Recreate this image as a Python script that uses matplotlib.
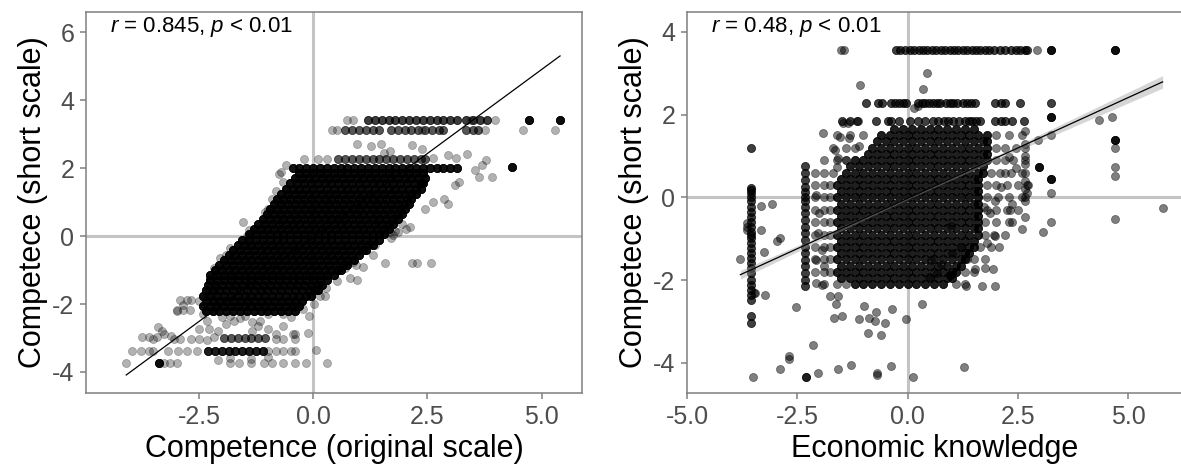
import numpy as np
import matplotlib
matplotlib.use("Agg")
import matplotlib.pyplot as plt

plt.rcParams['font.family'] = ['Liberation Sans', 'DejaVu Sans']
plt.rcParams['mathtext.fontset'] = 'custom'
plt.rcParams['mathtext.it'] = 'Liberation Sans:italic'
plt.rcParams['mathtext.rm'] = 'Liberation Sans'
plt.rcParams['axes.unicode_minus'] = False

# ---------------- left panel: original scale vs short scale ----------------
# short-scale levels with the original-scale scores seen on each level
left_levels = [-2.2, -2.05, -1.9, -1.75, -1.6, -1.45, -1.3, -1.15, -1.0, -0.85,
               -0.7, -0.55, -0.4, -0.25, -0.1, 0.05, 0.2, 0.35, 0.5, 0.65,
               0.8, 0.95, 1.1, 1.25, 1.4, 1.55, 1.7, 1.85,
               2.02, 2.27, 3.12, 3.42, -3.37, -3.01]
left_rows = [
    [-2.35, -2.2, -2.05, -1.9, -1.75, -1.6, -1.45, -1.3, -1.15, -1.0, -0.85, -0.7, -0.55, -0.4],
    [-2.4, -2.25, -2.1, -1.95, -1.8, -1.65, -1.5, -1.35, -1.2, -1.05, -0.9, -0.75, -0.6, -0.45, -0.3],
    [-2.35, -2.2, -2.05, -1.9, -1.75, -1.6, -1.45, -1.3, -1.15, -1.0, -0.85, -0.7, -0.55, -0.4, -0.25],
    [-2.4, -2.25, -2.1, -1.95, -1.8, -1.65, -1.5, -1.35, -1.2, -1.05, -0.9, -0.75, -0.6, -0.45, -0.3,
     -0.15, -0.05],
    [-2.35, -2.2, -2.05, -1.9, -1.75, -1.6, -1.45, -1.3, -1.15, -1.0, -0.85, -0.7, -0.55, -0.4, -0.25,
     -0.1, 0.05, 0.1],
    [-2.3, -2.15, -2.0, -1.85, -1.7, -1.55, -1.4, -1.25, -1.1, -0.95, -0.8, -0.65, -0.5, -0.35, -0.2,
     -0.05, 0.1, 0.2],
    [-2.25, -2.1, -1.95, -1.8, -1.65, -1.5, -1.35, -1.2, -1.05, -0.9, -0.75, -0.6, -0.45, -0.3, -0.15,
     0.0, 0.15, 0.3],
    [-2.25, -2.1, -1.95, -1.8, -1.65, -1.5, -1.35, -1.2, -1.05, -0.9, -0.75, -0.6, -0.45, -0.3, -0.15,
     0.0, 0.15, 0.3, 0.45],
    [-2.15, -2.0, -1.85, -1.7, -1.55, -1.4, -1.25, -1.1, -0.95, -0.8, -0.65, -0.5, -0.35, -0.2, -0.05,
     0.1, 0.25, 0.4, 0.55, 0.6],
    [-2.05, -1.9, -1.75, -1.6, -1.45, -1.3, -1.15, -1.0, -0.85, -0.7, -0.55, -0.4, -0.25, -0.1, 0.05,
     0.2, 0.35, 0.5, 0.65, 0.75],
    [-1.95, -1.8, -1.65, -1.5, -1.35, -1.2, -1.05, -0.9, -0.75, -0.6, -0.45, -0.3, -0.15, 0.0, 0.15,
     0.3, 0.45, 0.6, 0.75, 0.9],
    [-1.85, -1.7, -1.55, -1.4, -1.25, -1.1, -0.95, -0.8, -0.65, -0.5, -0.35, -0.2, -0.05, 0.1, 0.25,
     0.4, 0.55, 0.7, 0.85, 1.0],
    [-1.75, -1.6, -1.45, -1.3, -1.15, -1.0, -0.85, -0.7, -0.55, -0.4, -0.25, -0.1, 0.05, 0.2, 0.35,
     0.5, 0.65, 0.8, 0.95, 1.1, 1.15],
    [-1.65, -1.5, -1.35, -1.2, -1.05, -0.9, -0.75, -0.6, -0.45, -0.3, -0.15, 0.0, 0.15, 0.3, 0.45,
     0.6, 0.75, 0.9, 1.05, 1.2, 1.3],
    [-1.55, -1.4, -1.25, -1.1, -0.95, -0.8, -0.65, -0.5, -0.35, -0.2, -0.05, 0.1, 0.25, 0.4, 0.55,
     0.7, 0.85, 1.0, 1.15, 1.3, 1.45],
    [-1.4, -1.25, -1.1, -0.95, -0.8, -0.65, -0.5, -0.35, -0.2, -0.05, 0.1, 0.25, 0.4, 0.55, 0.7,
     0.85, 1.0, 1.15, 1.3, 1.45, 1.55],
    [-1.3, -1.15, -1.0, -0.85, -0.7, -0.55, -0.4, -0.25, -0.1, 0.05, 0.2, 0.35, 0.5, 0.65, 0.8,
     0.95, 1.1, 1.25, 1.4, 1.55, 1.65],
    [-1.2, -1.05, -0.9, -0.75, -0.6, -0.45, -0.3, -0.15, 0.0, 0.15, 0.3, 0.45, 0.6, 0.75, 0.9,
     1.05, 1.2, 1.35, 1.5, 1.65, 1.75],
    [-1.1, -0.95, -0.8, -0.65, -0.5, -0.35, -0.2, -0.05, 0.1, 0.25, 0.4, 0.55, 0.7, 0.85, 1.0,
     1.15, 1.3, 1.45, 1.6, 1.75, 1.85],
    [-1.0, -0.85, -0.7, -0.55, -0.4, -0.25, -0.1, 0.05, 0.2, 0.35, 0.5, 0.65, 0.8, 0.95, 1.1,
     1.25, 1.4, 1.55, 1.7, 1.85, 1.95],
    [-0.95, -0.8, -0.65, -0.5, -0.35, -0.2, -0.05, 0.1, 0.25, 0.4, 0.55, 0.7, 0.85, 1.0, 1.15,
     1.3, 1.45, 1.6, 1.75, 1.9, 2.0],
    [-0.85, -0.7, -0.55, -0.4, -0.25, -0.1, 0.05, 0.2, 0.35, 0.5, 0.65, 0.8, 0.95, 1.1, 1.25,
     1.4, 1.55, 1.7, 1.85, 2.0, 2.1],
    [-0.8, -0.65, -0.5, -0.35, -0.2, -0.05, 0.1, 0.25, 0.4, 0.55, 0.7, 0.85, 1.0, 1.15, 1.3,
     1.45, 1.6, 1.75, 1.9, 2.05, 2.15],
    [-0.7, -0.55, -0.4, -0.25, -0.1, 0.05, 0.2, 0.35, 0.5, 0.65, 0.8, 0.95, 1.1, 1.25, 1.4,
     1.55, 1.7, 1.85, 2.0, 2.15, 2.25],
    [-0.6, -0.45, -0.3, -0.15, 0.0, 0.15, 0.3, 0.45, 0.6, 0.75, 0.9, 1.05, 1.2, 1.35, 1.5,
     1.65, 1.8, 1.95, 2.1, 2.25, 2.35],
    [-0.5, -0.35, -0.2, -0.05, 0.1, 0.25, 0.4, 0.55, 0.7, 0.85, 1.0, 1.15, 1.3, 1.45, 1.6,
     1.75, 1.9, 2.05, 2.2, 2.35, 2.4],
    [-0.4, -0.25, -0.1, 0.05, 0.2, 0.35, 0.5, 0.65, 0.8, 0.95, 1.1, 1.25, 1.4, 1.55, 1.7,
     1.85, 2.0, 2.15, 2.3, 2.45],
    [-0.3, -0.15, 0.0, 0.15, 0.3, 0.45, 0.6, 0.75, 0.9, 1.05, 1.2, 1.35, 1.5, 1.65, 1.8,
     1.95, 2.1, 2.25, 2.4],
    [-0.45, -0.3, -0.15, 0.0, 0.15, 0.3, 0.45, 0.6, 0.75, 0.9, 1.05, 1.2, 1.35, 1.5, 1.65, 1.8, 1.95,
     2.1, 2.25, 2.4, 2.55, 2.7, 2.85, 3.0, 3.15],
    [0.55, 0.7, 0.85, 1.0, 1.15, 1.3, 1.45, 1.6, 1.75, 1.9, 2.05, 2.2, 2.35, 2.45],
    [0.7, 0.85, 1.0, 1.15, 1.3, 1.45, 1.7, 1.85, 2.0, 2.15, 2.3, 2.45, 2.6, 2.75, 2.85, 3.35, 3.5, 3.6],
    [1.2, 1.35, 1.5, 1.65, 1.8, 1.95, 2.1, 2.25, 2.4, 2.55, 2.7, 2.85, 3.0, 3.15, 3.35, 3.5, 3.65, 3.8],
    [-2.3, -2.15, -2.0, -1.85, -1.7, -1.55, -1.4, -1.25, -1.1],
    [-1.95, -1.8, -1.65, -1.5, -1.35, -1.2, -1.05],
]
# respondents stacked on each point of a row
left_counts = [8] * 28 + [7, 3, 3, 4, 6, 3]

# scattered respondents
left_x = [4.59, 5.29, 0.73, 0.86, 3.98, 3.46, 0.42, 0.52, 2.37, 3.75,
          0.96, 1.26, 1.48, 2.16, 1.69, 1.55, 2.37, 3.36, 3.12, 2.95, 2.62, 3.79, 3.69, 3.54,
          3.92, 3.62, 3.1, 3.2, 2.87, 2.95, 2.62, 2.45, 2.03, 1.86, 1.69, 2.11, 1.75, 1.36,
          1.57, 2.16, 2.28, 2.58, 0.86, 0.81, 0.69, 0.94, 0.52, 0.27, 0.14, 0.02, -0.23, -0.4,
          -0.11, 0.06, 0.31, -0.15,
          -1.54, -1.41, -1.45, -1.83, -1.91, -2.04, -2.16, -2.25, -2.16, -2.33, -0.99, -1.05,
          -0.74, -0.65, -0.82, -0.9, -0.7, -0.6, -0.2, 0.1, 0.3,
          -2.92, -2.75, -2.67, -2.5, -2.98, -2.84, -2.69, -2.42, -2.33, -2.5, -2.29, -2.08,
          -1.74, -1.49, -1.33, -1.33, -0.99, -0.65, -0.44, -0.82, -1.16, -1.83, -1.6, -2.0,
          -0.99, -0.65, -0.49, -1.9, -1.2,
          -3.51, -3.26, -3.05, -2.92, -2.67, -2.5, -2.33, -2.16, -0.82, -0.65, -0.4, -0.4,
          -3.97, -3.76, -3.59, -3.5, -3.17, -2.96, -2.75, -2.54, -0.99, -0.82, -0.65, -0.49, -0.4,
          -4.09, -3.26, -3.13, -2.98, -2.08, -1.83, -1.62, -1.37, -1.07, -0.91, -0.65, -0.4,
          -1.83, -1.37, -0.99,
          -3.75, -3.6, -3.42, -3.39, -3.3, -3.1, -2.98, -2.84,
          1.8, 1.95, 1.7, 1.3, 1.1, 0.95, 0.25, -0.1]
left_y = [3.12, 3.12, 3.42, 3.42, 3.42, 3.42, 3.12, 3.12, 3.12, 3.12,
          2.72, 2.64, 2.72, 2.69, 2.5, 2.46, 2.56, 2.42, 2.3, 2.4, 2.3, 2.25, 2.1, 1.95,
          1.75, 1.75, 1.5, 1.6, 1.1, 0.95, 1.0, 0.8, 0.22, 0.13, 0.13, 0.27, 0.03, -0.26,
          -0.78, -0.78, -0.78, -0.78, -0.75, -1.23, -0.94, -0.84, -1.33, -1.52, -1.76, -2.0, -2.15, -2.08,
          -2.86, -3.36, -3.73, -3.73,
          0.42, 0.17, 0.0, -0.36, -0.55, -0.65, -0.94, -1.23, -1.52, -1.72, 0.8, 0.7,
          1.82, 1.58, 1.34, 1.1, 1.9, 2.1, 2.27, 2.27, 2.27,
          -1.89, -1.89, -1.89, -1.91, -2.2, -2.03, -2.18, -2.3, -2.49, -2.73, -2.73, -2.78,
          -2.49, -2.34, -2.54, -2.78, -2.73, -2.64, -2.88, -2.88, -2.49, -2.35, -2.4, -2.39,
          -2.3, -2.3, -2.39, -2.6, -2.65,
          -3.02, -2.88, -3.02, -3.02, -3.02, -3.02, -3.07, -2.97, -3.02, -3.02, -3.02, -2.88,
          -3.37, -3.37, -3.37, -3.37, -3.37, -3.37, -3.37, -3.37, -3.37, -3.37, -3.37, -3.37, -3.37,
          -3.73, -3.73, -3.73, -3.73, -3.65, -3.73, -3.73, -3.73, -3.73, -3.73, -3.73, -3.73,
          -3.6, -3.62, -3.55,
          -2.97, -2.97, -2.97, -2.67, -2.8, -2.95, -2.18, -2.18,
          0.15, 0.35, -0.05, -0.55, -0.9, -1.3, -1.75, -2.35]

# heavily repeated answers (drawn nearly opaque)
left_heavy_x = [4.73, 5.40, 4.35, -3.38]
left_heavy_y = [3.42, 3.42, 2.03, -3.73]
left_heavy_n = [8, 8, 8, 8]

left_fit = (-0.04, 0.99)       # intercept, slope
left_label = r'$r$ = 0.845, $p$ < 0.01'

# ---------------- right panel: economic knowledge vs short scale ----------------
right_levels = [-2.1, -1.95, -1.8, -1.65, -1.5, -1.35, -1.2, -1.05, -0.9, -0.75,
                -0.6, -0.45, -0.3, -0.15, 0.0, 0.15, 0.3, 0.45, 0.6, 0.75,
                0.9, 1.05, 1.2, 1.35, 1.5, 1.65,
                3.57, 2.29, 1.85]
right_rows = [
    [-1.2, -1.0, -0.8, -0.6, -0.4, -0.2, 0.0, 0.2, 0.4, 0.6, 0.8],
    [-1.5, -1.3, -1.1, -0.9, -0.7, -0.5, -0.3, -0.1, 0.1, 0.3, 0.5, 0.7, 0.9, 1.0],
    [-1.6, -1.4, -1.2, -1.0, -0.8, -0.6, -0.4, -0.2, 0.0, 0.2, 0.4, 0.6, 0.8, 1.0, 1.1],
    [-1.5, -1.3, -1.1, -0.9, -0.7, -0.5, -0.3, -0.1, 0.1, 0.3, 0.5, 0.7, 0.9, 1.1, 1.2],
    [-1.6, -1.4, -1.2, -1.0, -0.8, -0.6, -0.4, -0.2, 0.0, 0.2, 0.4, 0.6, 0.8, 1.0, 1.2, 1.3],
    [-1.5, -1.3, -1.1, -0.9, -0.7, -0.5, -0.3, -0.1, 0.1, 0.3, 0.5, 0.7, 0.9, 1.1, 1.3, 1.4],
    [-1.6, -1.4, -1.2, -1.0, -0.8, -0.6, -0.4, -0.2, 0.0, 0.2, 0.4, 0.6, 0.8, 1.0, 1.2, 1.4, 1.5],
    [-1.5, -1.3, -1.1, -0.9, -0.7, -0.5, -0.3, -0.1, 0.1, 0.3, 0.5, 0.7, 0.9, 1.1, 1.3, 1.5],
    [-1.6, -1.4, -1.2, -1.0, -0.8, -0.6, -0.4, -0.2, 0.0, 0.2, 0.4, 0.6, 0.8, 1.0, 1.2, 1.4, 1.6],
    [-1.5, -1.3, -1.1, -0.9, -0.7, -0.5, -0.3, -0.1, 0.1, 0.3, 0.5, 0.7, 0.9, 1.1, 1.3, 1.5, 1.6],
    [-1.6, -1.4, -1.2, -1.0, -0.8, -0.6, -0.4, -0.2, 0.0, 0.2, 0.4, 0.6, 0.8, 1.0, 1.2, 1.4, 1.6],
    [-1.5, -1.3, -1.1, -0.9, -0.7, -0.5, -0.3, -0.1, 0.1, 0.3, 0.5, 0.7, 0.9, 1.1, 1.3, 1.5, 1.6],
    [-1.6, -1.4, -1.2, -1.0, -0.8, -0.6, -0.4, -0.2, 0.0, 0.2, 0.4, 0.6, 0.8, 1.0, 1.2, 1.4, 1.6],
    [-1.5, -1.3, -1.1, -0.9, -0.7, -0.5, -0.3, -0.1, 0.1, 0.3, 0.5, 0.7, 0.9, 1.1, 1.3, 1.5, 1.6],
    [-1.6, -1.4, -1.2, -1.0, -0.8, -0.6, -0.4, -0.2, 0.0, 0.2, 0.4, 0.6, 0.8, 1.0, 1.2, 1.4, 1.6],
    [-1.5, -1.3, -1.1, -0.9, -0.7, -0.5, -0.3, -0.1, 0.1, 0.3, 0.5, 0.7, 0.9, 1.1, 1.3, 1.5, 1.6],
    [-1.6, -1.4, -1.2, -1.0, -0.8, -0.6, -0.4, -0.2, 0.0, 0.2, 0.4, 0.6, 0.8, 1.0, 1.2, 1.4, 1.6],
    [-1.5, -1.3, -1.1, -0.9, -0.7, -0.5, -0.3, -0.1, 0.1, 0.3, 0.5, 0.7, 0.9, 1.1, 1.3, 1.5, 1.6],
    [-1.4, -1.2, -1.0, -0.8, -0.6, -0.4, -0.2, 0.0, 0.2, 0.4, 0.6, 0.8, 1.0, 1.2, 1.4, 1.6, 1.7],
    [-1.3, -1.1, -0.9, -0.7, -0.5, -0.3, -0.1, 0.1, 0.3, 0.5, 0.7, 0.9, 1.1, 1.3, 1.5, 1.7],
    [-1.2, -1.0, -0.8, -0.6, -0.4, -0.2, 0.0, 0.2, 0.4, 0.6, 0.8, 1.0, 1.2, 1.4, 1.6, 1.8],
    [-0.9, -0.7, -0.5, -0.3, -0.1, 0.1, 0.3, 0.5, 0.7, 0.9, 1.1, 1.3, 1.5, 1.7, 1.8],
    [-0.8, -0.6, -0.4, -0.2, 0.0, 0.2, 0.4, 0.6, 0.8, 1.0, 1.2, 1.4, 1.6, 1.8],
    [-0.7, -0.5, -0.3, -0.1, 0.1, 0.3, 0.5, 0.7, 0.9, 1.1, 1.3, 1.5, 1.7, 1.8],
    [-0.6, -0.4, -0.2, 0.0, 0.2, 0.4, 0.6, 0.8, 1.0, 1.2, 1.4, 1.6, 1.8],
    [-0.3, -0.1, 0.1, 0.3, 0.5, 0.7, 0.9, 1.1, 1.3, 1.5],
    [-0.27, -0.17, -0.05, 0.05, 0.15, 0.25, 0.35, 0.45, 0.55, 0.65, 0.75, 0.85, 0.95, 1.05, 1.15,
     1.25, 1.35, 1.45, 1.55, 1.65, 1.75, 1.85, 1.95, 2.1, 2.2, 2.35, 2.45, 2.55, 2.65, 2.7],
    [-0.94, -0.67, -0.58, -0.37, -0.28, -0.2, -0.11, -0.03, 0.23, 0.32, 0.4, 0.49, 0.57, 0.66,
     0.74, 0.87, 0.96, 1.04, 1.13, 1.26, 1.34, 1.43, 1.52, 1.99, 2.11, 2.2, 2.54, 3.25],
    [-1.48, -1.31, -1.14, -0.71, -0.45, -0.37, -0.2, 0.06, 0.23, 0.4, 0.57, 0.7, 0.83, 0.92, 1.04,
     1.17, 1.3, 1.39, 1.47, 1.56, 1.64, 1.99, 2.11, 2.2, 2.37, 2.63],
]
right_counts = [3] * 26 + [2, 2, 2]

# looser ring of respondents round the dense middle
right_ring_levels = [1.5, 1.2, 0.9, 0.6, 0.3, 0.0, -0.3, -0.6, -0.9, -1.2, -1.5, -1.8, -2.1]
right_ring_rows = [
    [-1.6, -1.3, -1.0, 2.0, 2.3, 2.6],
    [-1.7, -1.4, -1.2, 2.0, 2.2, 2.45, 2.65],
    [-1.9, -1.6, -1.4, 2.0, 2.2, 2.4, 2.65],
    [-2.1, -1.9, -1.7, 1.9, 2.1, 2.35, 2.6],
    [-2.1, -1.9, -1.75, 1.8, 2.0, 2.25, 2.5, 2.7],
    [-2.1, -1.9, -1.75, 1.8, 2.05, 2.3, 2.6],
    [-2.1, -1.9, -1.75, 1.8, 2.0, 2.25, 2.5],
    [-2.1, -1.9, -1.75, 1.75, 2.0, 2.3],
    [-2.1, -1.9, -1.75, 1.75, 1.95, 2.2],
    [-2.1, -1.9, -1.75, 1.65, 1.9],
    [-2.1, -1.9, -1.75, 1.5, 1.75],
    [-2.1, -1.9, -1.75, 1.3, 1.5],
    [-1.9, -1.6, -1.4, 1.1, 1.3],
]
right_ring_counts = [1] * 13

# economic-knowledge values that form vertical columns
right_cols = [-3.55, -2.33, 2.65]
right_col_y = [
    [1.2, 0.22, 0.18, 0.1, 0.02, -0.1, -0.23, -0.35, -0.47, -0.59, -0.71, -0.83, -0.91, -0.99,
     -1.11, -1.23, -1.35, -1.47, -1.59, -1.71, -1.84, -2.0, -2.12, -2.24, -2.36, -2.48, -2.88, -3.03],
    [0.76, 0.6, 0.42, 0.26, 0.14, 0.02, -0.1, -0.23, -0.39, -0.55, -0.71, -0.87, -1.03, -1.19,
     -1.35, -1.51, -1.67, -1.84, -2.0, -2.14],
    [1.6, 1.3, 1.0, 0.8, 0.6, 0.4, 0.2, 0.0, -0.1],
]
right_col_counts = [2, 2, 1]

right_x = [-3.79, -3.32, -3.07, -3.25, -2.89, -2.95, -3.32, -3.48, -3.24, -2.53, -2.14, -2.68,
           -2.68, -2.89, -3.51, -2.04, -1.57, -1.28, -0.69, -0.69, -0.37, 0.13, 1.28, -0.04,
           -0.9, -0.6, -0.51, -0.73, -0.71, -1.1, -0.88, -0.98, -0.35, 0.33, -1.67, -1.48,
           -1.63, -1.57, -1.75, 1.69, 1.99, 1.32, 1.93, 1.75, 1.52, 1.35, 2.07, 1.99, 1.79,
           3.08, 3.25, 3.25, 2.59, 2.37, 2.66, 2.37, 2.71, 2.73, 2.95, 3.25, 4.34, 4.64,
           4.7, 4.7, 4.7, 4.7, 5.78, -1.07, 0.34, 0.45, 0.15, 0.23, -1.91, -1.54, -1.33,
           -1.46, -1.35, -1.12, -1.57, -1.4, -1.11, -1.65, -1.61, -2.08, -2.0, -2.04, -1.95,
           -2.08, -1.9, -2.08, -1.95, 2.29, 2.2, 2.12, 2.46, 1.73, 1.86, 2.33, 1.99, 1.22,
           1.0, 0.66, 0.49, 0.75, 0.53, 0.98, -3.64, -3.64, -3.64, -3.45, -1.52, -1.44, 2.93]
right_y = [-1.5, -0.22, -0.16, -1.33, -0.99, -1.05, -0.79, -2.32, -2.36, -2.64, -3.57, -3.83,
           -3.9, -4.15, -4.35, -4.25, -4.15, -4.05, -4.25, -4.3, -4.07, -4.35, -4.09, -2.95,
           -3.29, -3.33, -3.03, -3.0, -2.78, -2.95, -2.92, -2.62, -2.7, -2.58, -2.92, -2.88,
           -2.58, -2.38, -2.38, -2.14, -2.14, -2.14, -1.74, -1.72, -1.73, -1.48, -1.21, -0.93, -1.11,
           -0.85, -0.59, 0.11, -0.77, -0.59, -0.47, -0.15, 0.1, 0.3, 1.38, 1.5, 1.87, 1.93,
           1.2, 0.74, 0.52, -0.53, -0.27, 2.71, 2.61, 3.01, 2.15, 2.2, 1.55, 1.47, 1.43,
           1.79, 1.8, 1.85, 0.94, 0.9, 1.24, 1.14, 0.74, 0.06, -0.39, -0.87, -1.27,
           -1.51, -1.67, -2.08, -2.12, 0.98, 0.58, 0.25, 0.7, -0.23, -0.39, -0.31, -0.1, -1.19,
           -1.35, -1.84, -1.92, -1.6, -1.52, -0.7, -0.63, -0.71, -0.79, -2.32, 3.57, 3.57, 3.57]

right_heavy_x = [3.25, 4.7, 3.25, 3.25, 4.7, 2.97, 0.96, -2.31]
right_heavy_y = [3.57, 3.57, 1.93, 0.44, 1.38, 0.74, -1.88, -4.35]
right_heavy_n = [4, 4, 4, 4, 4, 4, 3, 3]

right_fit = (-0.024, 0.487)
right_band = (0.03, 0.026)     # half-width of the 95% band: at the mean, growth per unit
right_label = r'$r$ = 0.48, $p$ < 0.01'


def expand_rows(levels, rows, counts):
    xs, ys = [], []
    for y, row, n in zip(levels, rows, counts):
        for x in row:
            xs += [x] * n
            ys += [y] * n
    return xs, ys


def expand_points(px, py, counts):
    xs, ys = [], []
    for x, y, n in zip(px, py, counts):
        xs += [x] * n
        ys += [y] * n
    return xs, ys


def style_axes(ax):
    for s in ax.spines.values():
        s.set_color('#7f7f7f')
        s.set_linewidth(1.1)
    ax.tick_params(colors='#7f7f7f', labelcolor='#4d4d4d', labelsize=18,
                   length=4.5, width=1.1, pad=4)
    ax.axhline(0, color='#c4c4c4', lw=2.2, zorder=0.5)
    ax.axvline(0, color='#c4c4c4', lw=2.2, zorder=0.5)


fig = plt.figure(figsize=(11.81, 4.70), dpi=100)
ax1 = fig.add_axes([86 / 1181, 77 / 470, 496 / 1181, 381 / 470])
ax2 = fig.add_axes([687 / 1181, 77 / 470, 495 / 1181, 381 / 470])

# Left panel
style_axes(ax1)
rx, ry = expand_rows(left_levels, left_rows, left_counts)
hx, hy = expand_points(left_heavy_x, left_heavy_y, left_heavy_n)
lx = rx + left_x + hx
ly = ry + left_y + hy
ax1.scatter(lx, ly, s=34, color='black', alpha=0.3, linewidths=0.5, zorder=2)
xs = np.array([min(lx), max(lx)])
ax1.plot(xs, left_fit[0] + left_fit[1] * xs, color='black', lw=0.9, zorder=3)
ax1.text(-2.45, 6.15, left_label, fontsize=16, ha='center', va='center')
ax1.set_xlim(-4.97, 5.88)
ax1.set_ylim(-4.62, 6.6)
ax1.set_xticks([-2.5, 0, 2.5, 5])
ax1.set_xticklabels(['-2.5', '0.0', '2.5', '5.0'])
ax1.set_yticks([-4, -2, 0, 2, 4, 6])
ax1.set_xlabel('Competence (original scale)', fontsize=22, labelpad=4)
ax1.set_ylabel('Competece (short scale)', fontsize=22, labelpad=3)

# Right panel
style_axes(ax2)
rx, ry = expand_rows(right_levels, right_rows, right_counts)
gx, gy = expand_rows(right_ring_levels, right_ring_rows, right_ring_counts)
cx, cy = [], []
for x, col, n in zip(right_cols, right_col_y, right_col_counts):
    for y in col:
        cx += [x] * n
        cy += [y] * n
hx, hy = expand_points(right_heavy_x, right_heavy_y, right_heavy_n)
kx = rx + gx + cx + right_x + hx
ky = ry + gy + cy + right_y + hy
ax2.scatter(kx, ky, s=34, color='black', alpha=0.5, linewidths=0.5, zorder=2)
xs = np.linspace(min(kx), max(kx), 100)
fit = right_fit[0] + right_fit[1] * xs
half = np.sqrt(right_band[0] ** 2 + (right_band[1] * (xs - np.mean(kx))) ** 2)
ax2.fill_between(xs, fit - half, fit + half, color='#999999', alpha=0.4, lw=0, zorder=3)
ax2.plot(xs, fit, color='black', lw=0.9, zorder=4)
ax2.text(-2.53, 4.12, right_label, fontsize=16, ha='center', va='center')
ax2.set_xlim(-5.0, 6.22)
ax2.set_ylim(-4.73, 4.48)
ax2.set_xticks([-5, -2.5, 0, 2.5, 5])
ax2.set_xticklabels(['-5.0', '-2.5', '0.0', '2.5', '5.0'])
ax2.set_yticks([-4, -2, 0, 2, 4])
ax2.set_xlabel('Economic knowledge', fontsize=22, labelpad=4)
ax2.set_ylabel('Competece (short scale)', fontsize=22, labelpad=3)

fig.savefig('out.png', dpi=100)
